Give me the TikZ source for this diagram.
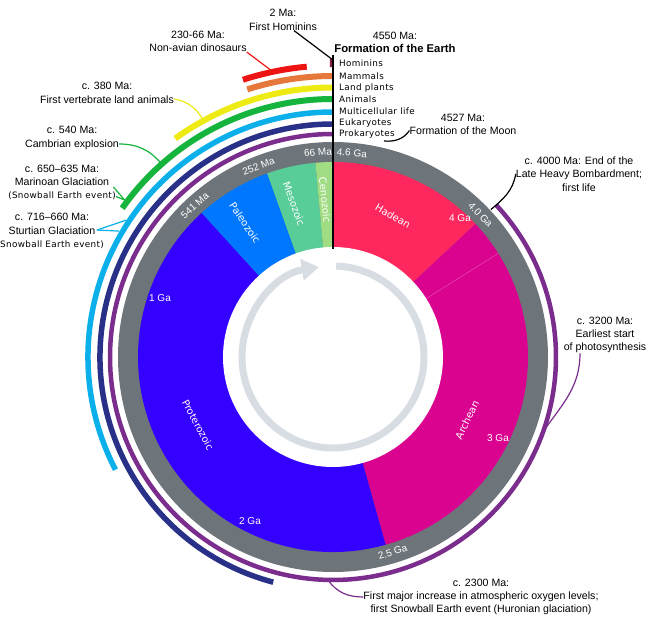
\documentclass[tikz,border=0pt]{standalone}
\usepackage{fontspec}
\setmainfont{Liberation Sans}
\newfontfamily\lifefont[LetterSpace=4]{DejaVu Sans}
\newfontfamily\eonfont{DejaVu Sans}
\usepackage{xcolor}
\usepackage{tikz}
\usetikzlibrary{arrows.meta}
\definecolor{hadeanpink}{RGB}{254,40,95}
\definecolor{archeanmagenta}{RGB}{218,3,144}
\definecolor{proterozoicblue}{RGB}{52,0,255}
\definecolor{paleozoicblue}{RGB}{0,119,255}
\definecolor{mesozoicgreen}{RGB}{89,205,151}
\definecolor{cenozoicgreen}{RGB}{160,220,130}
\definecolor{ringgray}{RGB}{110,117,122}
\definecolor{arrowgray}{RGB}{216,221,228}
\definecolor{prokaryotepurple}{RGB}{123,45,142}
\definecolor{eukaryoteblue}{RGB}{40,48,135}
\definecolor{multicellblue}{RGB}{11,176,234}
\definecolor{animalgreen}{RGB}{21,180,60}
\definecolor{plantyellow}{RGB}{238,234,20}
\definecolor{mammalorange}{RGB}{230,120,60}
\definecolor{dinored}{RGB}{239,20,20}
\definecolor{hominindark}{RGB}{140,30,60}
\tikzstyle{note} = [align=center, inner sep=0pt, font=\fontsize{10.6}{13.3}\selectfont]
\tikzstyle{lifename} = [anchor=west, inner sep=0pt, font=\lifefont\fontsize{8.8}{10}\selectfont]
\tikzstyle{ringtext} = [text=white, inner sep=0pt, font=\fontsize{10}{11}\selectfont]
\tikzstyle{eontext} = [text=white, inner sep=0pt, font=\eonfont\fontsize{10}{11}\selectfont]
\tikzstyle{lifearc} = [line width=5.5pt]
\tikzstyle{link} = [line width=1.2pt]

\begin{document}
\begin{tikzpicture}[x=1pt, y=1pt, declare function={ga(\t)=78.2609*\t-270;}]
\fill[white] (-333,-266) rectangle (317,357);
\useasboundingbox (-333,-266) rectangle (317,357);

% ===== CLOCK FACE =====
\fill[ringgray] (0,0) circle (215);
\fill[hadeanpink] (0,0) -- ({ga(4.6)}:195) arc[start angle={ga(4.6)}, end angle={ga(4.0)}, radius=195] -- cycle;
\fill[archeanmagenta] (0,0) -- ({ga(4.0)}:195) arc[start angle={ga(4.0)}, end angle={ga(2.5)}, radius=195] -- cycle;
\fill[proterozoicblue] (0,0) -- ({ga(2.5)}:195) arc[start angle={ga(2.5)}, end angle={ga(0.541)}, radius=195] -- cycle;
\fill[paleozoicblue] (0,0) -- ({ga(0.541)}:195) arc[start angle={ga(0.541)}, end angle={ga(0.252)}, radius=195] -- cycle;
\fill[mesozoicgreen] (0,0) -- ({ga(0.252)}:195) arc[start angle={ga(0.252)}, end angle={ga(0.066)}, radius=195] -- cycle;
\fill[cenozoicgreen] (0,0) -- ({ga(0.066)}:195) arc[start angle={ga(0.066)}, end angle={ga(0)}, radius=195] -- cycle;
% faint division inside the Archean
\draw[white, opacity=0.25, line width=0.6pt] ({ga(3.86)}:110) -- ({ga(3.86)}:195);
\fill[white] (0,0) circle (110);

% cycle arrow in the middle
\draw[arrowgray, line width=7pt, -{Triangle[length=17pt, width=21pt]}] (88:91) arc[start angle=88, end angle=-261, radius=91];

% eon names
\node[eontext, rotate=-30] (hadean) at (60,141) {Hadean};
\node[eontext, rotate=64] (archean) at (134,-63) {Archean};
\node[eontext, rotate=-62] (proterozoic) at (-135,-68) {Proterozoic};
\node[eontext, rotate=-56] (paleozoic) at (-88,134) {Paleozoic};
\node[eontext, rotate=-70] (mesozoic) at (-39,153) {Mesozoic};
\node[eontext, rotate=-84] (cenozoic) at (-8,157) {Cenozoic};

% ages inside the ring
\node[ringtext] (ga4) at (127,139) {4 Ga};
\node[ringtext] (ga3) at (165,-81) {3 Ga};
\node[ringtext] (ga2) at (-83,-164) {2 Ga};
\node[ringtext] (ga1) at (-173,59) {1 Ga};

% ages on the grey band
\node[ringtext, rotate=-5] (band46) at (84.7:205) {4.6 Ga};
\node[ringtext, rotate=-46] (band40) at (44:205) {4.0 Ga};
\node[ringtext, rotate=17] (band25) at (-73:204) {2.5 Ga};
\node[ringtext, rotate=42] (band541) at (132.4:205) {541 Ma};
\node[ringtext, rotate=21] (band252) at (111.3:205) {252 Ma};
\node[ringtext, rotate=4] (band66) at (94.2:205) {66 Ma};

% ===== LIFE ARCS =====
\draw[lifearc, prokaryotepurple, line width=4.5pt] ({ga(4.0)}:223) arc[start angle={ga(4.0)}, end angle={ga(0)}, radius=223];
\draw[lifearc, eukaryoteblue] ({ga(2.11)}:233) arc[start angle={ga(2.11)}, end angle={ga(0)}, radius=233];
\draw[lifearc, multicellblue] ({ga(1.5)}:245) arc[start angle={ga(1.5)}, end angle={ga(0)}, radius=245];
\draw[lifearc, animalgreen, line width=6pt] ({ga(0.7)}:258) arc[start angle={ga(0.7)}, end angle={ga(0)}, radius=258];
\draw[lifearc, plantyellow, line width=6pt] ({ga(0.458)}:269.5) arc[start angle={ga(0.458)}, end angle={ga(0)}, radius=269.5];
\draw[lifearc, mammalorange, line width=6pt] ({ga(0.227)}:281) arc[start angle={ga(0.227)}, end angle={ga(0)}, radius=281];
\draw[lifearc, dinored, line width=6pt] ({ga(0.23)}:291.5) arc[start angle={ga(0.23)}, end angle={ga(0.066)}, radius=291.5];
\draw[lifearc, hominindark, line width=8pt] (90.6:294) arc[start angle=90.6, end angle=90, radius=294];

% ===== TIME AXIS =====
\coordinate (axistop) at (0,302);
\coordinate (axisbottom) at (0,108);
\draw[line width=1.3pt] (axistop) -- (axisbottom);

\node[lifename] (hominin) at (6,294) {Hominins};
\node[lifename] (mammal) at (6,281) {Mammals};
\node[lifename] (plant) at (6,269) {Land plants};
\node[lifename] (animal) at (6,258) {Animals};
\node[lifename] (multicell) at (6,246) {Multicellular life};
\node[lifename] (eukaryote) at (6,234) {Eukaryotes};
\node[lifename] (prokaryote) at (6,223) {Prokaryotes};

% ===== EVENTS (TOP) =====
\node[note] (hominins) at (-50,337) {2 Ma:\\First Hominins};
\node[note] (dinosaurs) at (-135,315.5) {230-66 Ma:\\Non-avian dinosaurs};
\node[note] (earth) at (62,314.5) {4550 Ma:\\{\bfseries\fontsize{11.3}{13.3}\selectfont Formation of the Earth}};
\node[note] (moon) at (130,232.5) {4527 Ma:\\Formation of the Moon};

\coordinate (hominintip) at (0,297);
\coordinate (dinopoint) at (101.8:291);
\coordinate (moonpoint) at (51,216);
\draw[link] ([xshift=11pt]hominins.south) -- (hominintip);
\draw[link, dinored] (dinosaurs.south east) -- (dinopoint);
\draw[link] (moonpoint) to[out=-5, in=235] ([yshift=-6pt]moon.west);

% ===== EVENTS (RIGHT) =====
\node[note] (lhb) at (246,183) {c. 4000 Ma: End of the\\Late Heavy Bombardment;\\first life};
\node[note] (photo) at (272,22) {c. 3200 Ma:\\Earliest start\\of photosynthesis};
\node[note] (oxygen) at (148,-240) {c. 2300 Ma:\\First major increase in atmospheric oxygen levels;\\first Snowball Earth event (Huronian glaciation)};

\coordinate (lhbpoint) at ({ga(4.0)}:216);
\coordinate (photopoint) at ({ga(3.2)}:223);
\coordinate (oxygenpoint) at (-91.3:223);
\draw[link] (lhbpoint) to[out=40, in=-100] (lhb.west);
\draw[link, prokaryotepurple] ([xshift=-25pt]photo.south) to[out=-90, in=55] (photopoint);
\draw[link, prokaryotepurple] (oxygen.west) to[out=180, in=-55] (oxygenpoint);

% ===== EVENTS (LEFT) =====
\node[note] (vertebrate) at (-226,264) {c. 380 Ma:\\First vertebrate land animals};
\node[note] (cambrian) at (-261,219) {c. 540 Ma:\\Cambrian explosion};
\node[note] (marinoan) at (-271,174.5) {c. 650–635 Ma:\\Marinoan Glaciation\\{\lifefont\fontsize{8.8}{10}\selectfont (Snowball Earth event)}};
\node[note] (sturtian) at (-281,126) {c. 716–660 Ma:\\Sturtian Glaciation\\{\lifefont\fontsize{8.8}{10}\selectfont Snowball Earth event)}};

\coordinate (vertebratepoint) at (118.7:269.5);
\coordinate (cambrianpoint) at (131.6:258);
\coordinate (marinoanpoint) at (143:261);
\coordinate (sturtianupper) at (146.5:248);
\coordinate (sturtianlower) at (149.5:248);
\draw[link, plantyellow] ([yshift=-6pt]vertebrate.east) to[out=-10, in=120] (vertebratepoint);
\draw[link, animalgreen] ([yshift=-6pt]cambrian.east) to[out=0, in=130] (cambrianpoint);
\draw[link, animalgreen] ([xshift=-2.5pt, yshift=-4.5pt]marinoan.east) -- (marinoanpoint);
\draw[link, animalgreen] ([yshift=-14pt]marinoan.east) -- (marinoanpoint);
\draw[link, multicellblue] ([xshift=45pt, yshift=1pt]sturtian.center) -- (sturtianupper);
\draw[link, multicellblue] ([xshift=45pt, yshift=1pt]sturtian.center) -- (sturtianlower);

\end{tikzpicture}
\end{document}
